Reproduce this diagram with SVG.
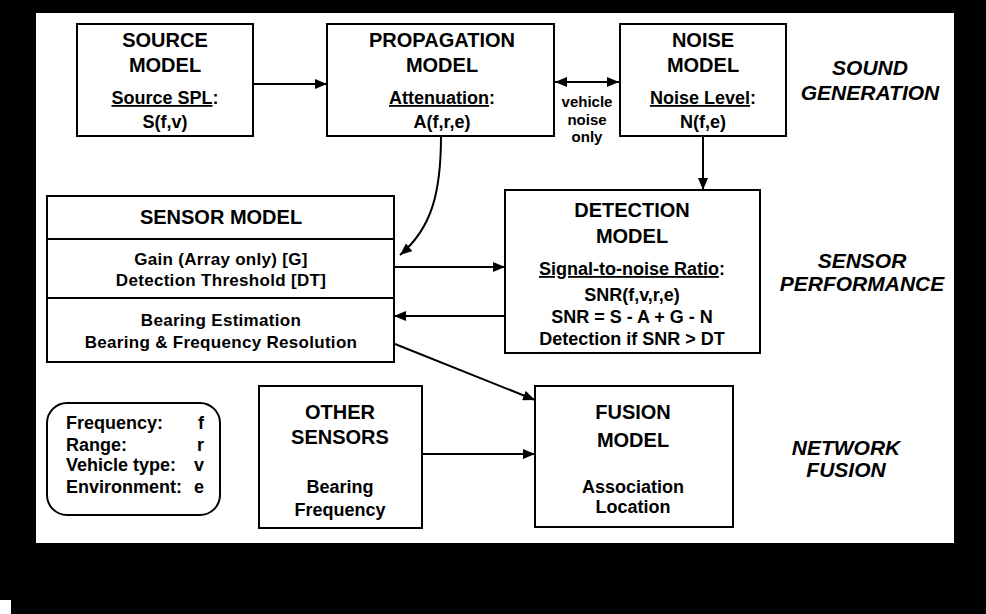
<svg xmlns="http://www.w3.org/2000/svg" width="986" height="614" viewBox="0 0 986 614">
<style>
.box{fill:#fff;stroke:#000;stroke-width:2}
.ln{fill:none;stroke:#000;stroke-width:2}
text{font-family:"Liberation Sans",Arial,sans-serif;font-weight:bold;fill:#000}
.t{font-size:20px;text-anchor:middle}
.b{font-size:18px;text-anchor:middle}
.bs{font-size:17px;text-anchor:middle;letter-spacing:0.3px}
.l{font-size:18px}
.v{font-size:18px;text-anchor:end}
.s{font-size:15px;text-anchor:middle}
.g{font-size:21px;font-style:italic;text-anchor:middle}
.u{text-decoration:underline}
</style>
<defs>
<marker id="ah" viewBox="0 0 12 10" refX="12" refY="5" markerWidth="12" markerHeight="10" markerUnits="userSpaceOnUse" orient="auto-start-reverse">
<path d="M0,0 L12,5 L0,10 Z" fill="#000"/>
</marker>
</defs>
<rect x="0" y="0" width="986" height="614" fill="#000"/>
<rect x="36" y="13" width="918" height="530" fill="#fff"/>
<rect x="0" y="600" width="11" height="14" fill="#fff"/>

<g id="source">
<rect class="box" x="77" y="24" width="176" height="112"/>
<text class="t" x="165" y="47">SOURCE</text>
<text class="t" x="165" y="72">MODEL</text>
<text class="b" x="165" y="104"><tspan class="u">Source SPL</tspan>:</text>
<text class="b" x="165" y="128">S(f,v)</text>
</g>

<g id="propagation">
<rect class="box" x="327" y="24" width="227" height="112"/>
<text class="t" x="442" y="47">PROPAGATION</text>
<text class="t" x="442" y="72">MODEL</text>
<text class="b" x="442" y="104"><tspan class="u">Attenuation</tspan>:</text>
<text class="b" x="442" y="128">A(f,r,e)</text>
</g>

<g id="noise">
<rect class="box" x="620" y="24" width="166" height="112"/>
<text class="t" x="703" y="47">NOISE</text>
<text class="t" x="703" y="72">MODEL</text>
<text class="b" x="703" y="104"><tspan class="u">Noise Level</tspan>:</text>
<text class="b" x="703" y="128">N(f,e)</text>
</g>

<g id="sensor">
<rect class="box" x="47" y="196" width="347" height="166"/>
<line class="ln" x1="47" y1="239" x2="394" y2="239"/>
<line class="ln" x1="47" y1="298" x2="394" y2="298"/>
<text class="t" x="221" y="224">SENSOR MODEL</text>
<text class="bs" x="221" y="265">Gain (Array only) [G]</text>
<text class="bs" x="221" y="286">Detection Threshold [DT]</text>
<text class="bs" x="221" y="326">Bearing Estimation</text>
<text class="bs" x="221" y="348">Bearing &amp; Frequency Resolution</text>
</g>

<g id="detection">
<rect class="box" x="505" y="190" width="255" height="163"/>
<text class="t" x="632" y="217">DETECTION</text>
<text class="t" x="632" y="243">MODEL</text>
<text class="b" x="632" y="275"><tspan class="u">Signal-to-noise Ratio</tspan>:</text>
<text class="b" x="632" y="301">SNR(f,v,r,e)</text>
<text class="b" x="632" y="323">SNR = S - A + G - N</text>
<text class="b" x="632" y="345">Detection if SNR &gt; DT</text>
</g>

<g id="legend">
<rect class="box" x="47" y="403" width="173" height="112" rx="20" ry="20"/>
<text class="l" x="66" y="429">Frequency:</text>
<text class="l" x="66" y="451">Range:</text>
<text class="l" x="66" y="471">Vehicle type:</text>
<text class="l" x="66" y="493">Environment:</text>
<text class="v" x="204" y="429">f</text>
<text class="v" x="204" y="451">r</text>
<text class="v" x="204" y="471">v</text>
<text class="v" x="204" y="493">e</text>
</g>

<g id="other">
<rect class="box" x="259" y="386" width="163" height="142"/>
<text class="t" x="340" y="419">OTHER</text>
<text class="t" x="340" y="444">SENSORS</text>
<text class="b" x="340" y="493">Bearing</text>
<text class="b" x="340" y="516">Frequency</text>
</g>

<g id="fusion">
<rect class="box" x="535" y="386" width="198" height="141"/>
<text class="t" x="633" y="419">FUSION</text>
<text class="t" x="633" y="447">MODEL</text>
<text class="b" x="633" y="493">Association</text>
<text class="b" x="633" y="513">Location</text>
</g>

<g id="labels">
<text class="g" x="870" y="75">SOUND</text>
<text class="g" x="870" y="100">GENERATION</text>
<text class="g" x="862" y="268">SENSOR</text>
<text class="g" x="862" y="291">PERFORMANCE</text>
<text class="g" x="846" y="455">NETWORK</text>
<text class="g" x="846" y="477">FUSION</text>
</g>

<g id="connectors">
<line class="ln" x1="253" y1="84" x2="327" y2="84" marker-end="url(#ah)"/>
<line class="ln" x1="555" y1="82" x2="619" y2="82" marker-start="url(#ah)" marker-end="url(#ah)"/>
<text class="s" x="587" y="107">vehicle</text>
<text class="s" x="587" y="125">noise</text>
<text class="s" x="587" y="142">only</text>
<line class="ln" x1="703" y1="136" x2="703" y2="190" marker-end="url(#ah)"/>
<path class="ln" d="M441,136 C441,192 432,228 400,255" marker-end="url(#ah)"/>
<line class="ln" x1="394" y1="267" x2="505" y2="267" marker-end="url(#ah)"/>
<line class="ln" x1="505" y1="316" x2="394" y2="316" marker-end="url(#ah)"/>
<line class="ln" x1="395" y1="344" x2="535" y2="400" marker-end="url(#ah)"/>
<line class="ln" x1="422" y1="454" x2="535" y2="454" marker-end="url(#ah)"/>
</g>
</svg>
